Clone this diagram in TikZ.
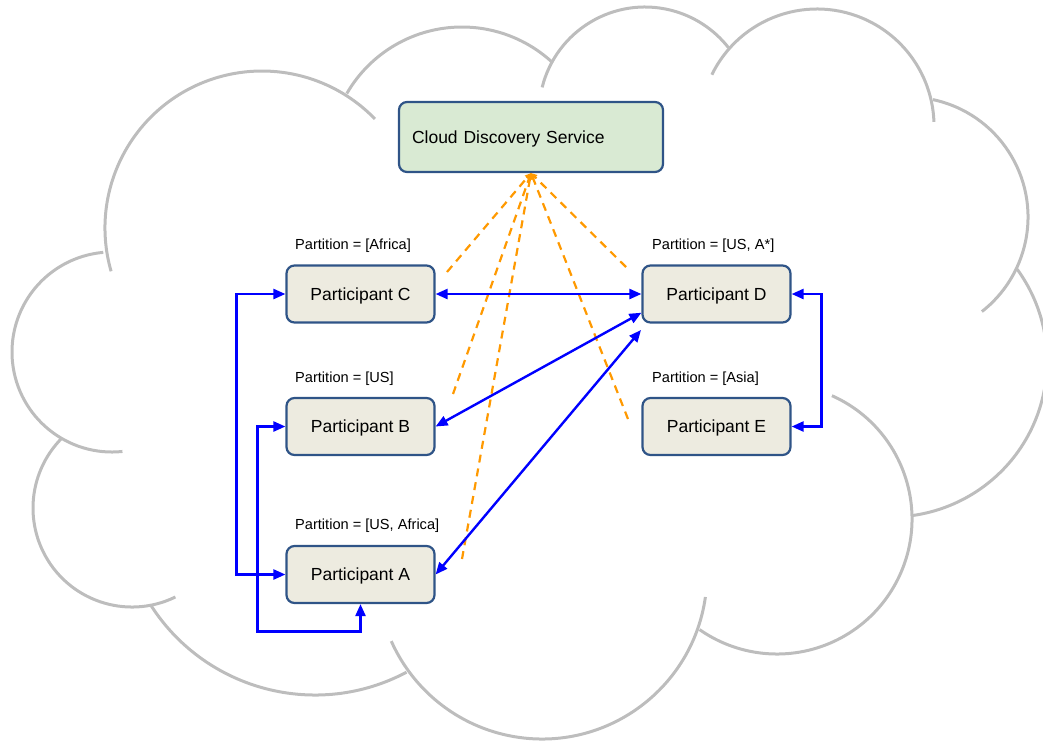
\documentclass[tikz,border=0pt]{standalone}
\usepackage{fontspec}
\setmainfont{Liberation Sans}
\usetikzlibrary{arrows.meta}
\definecolor{cloudgray}{HTML}{BDBDBD}
\definecolor{boxline}{HTML}{2F5487}
\definecolor{boxfill}{HTML}{EDEBE0}
\definecolor{cdsfill}{HTML}{D9EAD3}
\definecolor{lookuporange}{HTML}{FF9900}
\begin{document}
\begin{tikzpicture}[x=1pt,y=-1pt,
    lobe/.style={draw=cloudgray,line width=3pt},
    part/.style={draw=boxline,fill=boxfill,line width=2.2pt,rounded corners=8pt,
      minimum width=148pt,minimum height=57pt,text depth=0pt,
      font=\fontsize{17.5}{20}\selectfont},
    lbl/.style={anchor=west,inner sep=0pt,text depth=0pt,
      font=\fontsize{14.6}{17}\selectfont},
    link/.style={draw=blue,line width=2.4pt,
      {Triangle[length=12pt,width=10pt]}-{Triangle[length=12pt,width=10pt]}},
    lookup/.style={draw=lookuporange,line width=2.2pt,dash pattern=on 8pt off 6pt,
      -{Triangle[length=6pt,width=6pt]}}]

      \useasboundingbox (0,0) rectangle (1043,740);

      % cloud outline
      \foreach \cx/\cy/\r/\a/\b in {262/228/157/164/316, 462/160/133/210/313,
          645/113/106/194/322, 817/126/117/206/358, 908/217/120/282/412,
          891/361/156/-36/82, 777/519/135/-66/125, 542/574/165/8/156,
          315/500/195/62/147, 132/508/99/64/225, 112/352/100/84/265}
        \draw[lobe] (\cx,\cy) ++(\a:\r) arc[start angle=\a,end angle=\b,radius=\r];

      \node[part,fill=cdsfill,minimum width=264pt,minimum height=70pt,
        text width=238pt,align=left] (cds) at (531,137) {Cloud Discovery Service};

      \begin{scope}[every node/.style={part}]
        \node (C) at (360.5,294) {Participant C};
        \node (D) at (716.5,294) {Participant D};
        \node (B) at (360.5,426.5) {Participant B};
        \node (E) at (716.5,426.5) {Participant E};
        \node (A) at (360.5,574.5) {Participant A};
      \end{scope}

      \begin{scope}[every node/.style={lbl}]
        \node (pc) at (295,244) {Partition = [Africa]};
        \node (pd) at (652,244) {Partition = [US, A*]};
        \node (pb) at (295,377) {Partition = [US]};
        \node (pe) at (652,377) {Partition = [Asia]};
        \node (pa) at (295,524) {Partition = [US, Africa]};
      \end{scope}

      \coordinate (qc) at (447,272);
      \coordinate (qb) at (453,394);
      \coordinate (qa) at (462,559);
      \coordinate (qd) at (626,267);
      \coordinate (qe) at (628,419);
      \coordinate (dl) at (641,330);

      \foreach \q in {qc,qb,qa,qd,qe}
        \draw[lookup] (\q) -- (cds.south);

      \draw[link] (C) -- (D);
      \draw[link] (B.east) -- (D.194);
      \draw[link] (A.east) -- (dl);
      \draw[link] (D.east) -- ++(30,0) |- (E.east);
      \draw[link] (C.west) -- ++(-49,0) |- (A.west);
      \draw[link] (B.west) -- ++(-28,0) -- ++(0,205) -| (A.south);

    \end{tikzpicture}
\end{document}
